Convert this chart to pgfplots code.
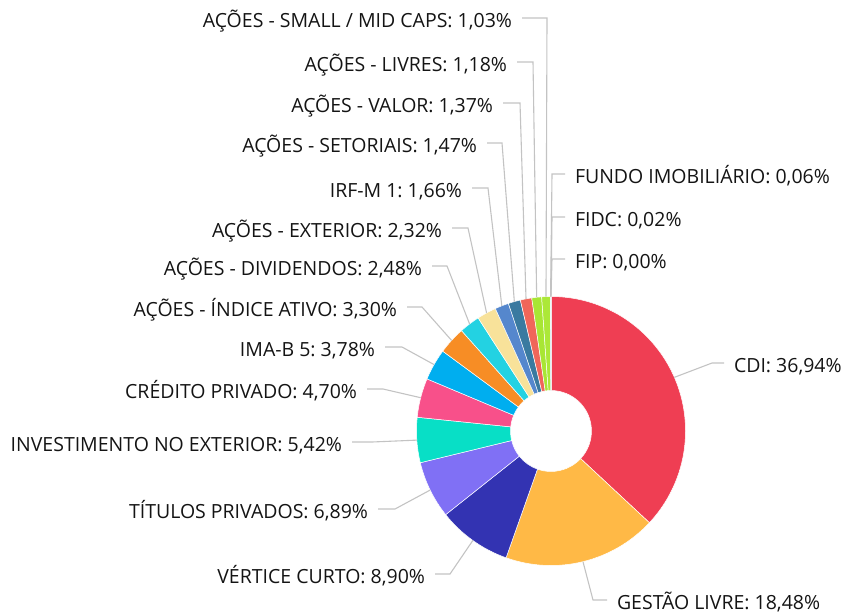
\documentclass[border=0pt]{standalone}
\usepackage{fontspec}
\setmainfont{Open Sans}
\usepackage{pgfplots}
\pgfplotsset{compat=1.18}
\usepackage{pgfplotstable}
\frenchspacing

\definecolor{cCDI}{RGB}{239,62,83}
\definecolor{cGL}{RGB}{255,185,70}
\definecolor{cVC}{RGB}{51,51,178}
\definecolor{cTP}{RGB}{128,112,245}
\definecolor{cIE}{RGB}{8,223,198}
\definecolor{cCP}{RGB}{248,80,138}
\definecolor{cIMA}{RGB}{0,174,239}
\definecolor{cIA}{RGB}{247,141,37}
\definecolor{cDIV}{RGB}{35,210,226}
\definecolor{cEXT}{RGB}{248,226,154}
\definecolor{cIRF}{RGB}{85,135,205}
\definecolor{cSET}{RGB}{58,122,160}
\definecolor{cVAL}{RGB}{240,102,90}
\definecolor{cLIV}{RGB}{168,230,52}
\definecolor{cSM}{RGB}{172,232,56}
\definecolor{cFII}{RGB}{128,112,245}
\definecolor{cFIDC}{RGB}{8,223,198}
\definecolor{cFIP}{RGB}{248,80,138}
\definecolor{conn}{RGB}{195,195,195}
\definecolor{txt}{RGB}{20,20,20}

\tikzset{
  lbl/.style={font=\fontsize{19.5}{23}\selectfont, text=txt, inner sep=0pt, outer sep=0pt},
  cn/.style={draw=conn, line width=1.1pt},
}

% value; colour; label; side (1 right, -1 left); text x; line y; bend x  (pixel coordinates)
\pgfplotstableread[col sep=semicolon]{
value;color;label;side;tx;ly;bx
36.94;cCDI;{CDI: 36,94\%};1;734;363;712
18.48;cGL;{GESTÃO LIVRE: 18,48\%};1;617;600;593
8.90;cVC;{VÉRTICE CURTO: 8,90\%};-1;425;574;450
6.89;cTP;{TÍTULOS PRIVADOS: 6,89\%};-1;368;509;395
5.42;cIE;{INVESTIMENTO NO EXTERIOR: 5,42\%};-1;342;442;372
4.70;cCP;{CRÉDITO PRIVADO: 4,70\%};-1;357;389;383
3.78;cIMA;{IMA-B 5: 3,78\%};-1;375;347;402
3.30;cIA;{AÇÕES - ÍNDICE ATIVO: 3,30\%};-1;397;307;422
2.48;cDIV;{AÇÕES - DIVIDENDOS: 2,48\%};-1;422;266;447
2.32;cEXT;{AÇÕES - EXTERIOR: 2,32\%};-1;442;228;468
1.66;cIRF;{IRF-M 1: 1,66\%};-1;462;188;488
1.47;cSET;{AÇÕES - SETORIAIS: 1,47\%};-1;477;143;502
1.37;cVAL;{AÇÕES - VALOR: 1,37\%};-1;493;103;520
1.18;cLIV;{AÇÕES - LIVRES: 1,18\%};-1;507;62;533
1.03;cSM;{AÇÕES - SMALL / MID CAPS: 1,03\%};-1;512;18;547
0.06;cFII;{FUNDO IMOBILIÁRIO: 0,06\%};1;575;174;552
0.02;cFIDC;{FIDC: 0,02\%};1;575;217;552
0.00;cFIP;{FIP: 0,00\%};1;575;259;552
}\piedata

\def\rO{134.5pt}
\def\rI{40.5pt}

\begin{document}
\begin{tikzpicture}
\begin{axis}[
  scale only axis, width=845pt, height=613pt,
  xmin=0, xmax=845, ymin=0, ymax=613, y dir=reverse,
  hide axis, clip=false,
]
\addplot[draw=none] coordinates {(0,0) (845,613)};
\pgfplotstablegetrowsof{\piedata}
\pgfmathtruncatemacro\N{\pgfplotsretval-1}
\def\cum{0}
\pgfplotsforeachungrouped \i in {0,...,\N}{%
  \pgfplotstablegetelem{\i}{value}\of\piedata \let\v\pgfplotsretval
  \pgfplotstablegetelem{\i}{color}\of\piedata \let\col\pgfplotsretval
  \pgfplotstablegetelem{\i}{label}\of\piedata \let\lab\pgfplotsretval
  \pgfplotstablegetelem{\i}{side}\of\piedata \let\s\pgfplotsretval
  \pgfplotstablegetelem{\i}{tx}\of\piedata \let\tx\pgfplotsretval
  \pgfplotstablegetelem{\i}{ly}\of\piedata \let\ly\pgfplotsretval
  \pgfplotstablegetelem{\i}{bx}\of\piedata \let\bx\pgfplotsretval
  \pgfmathsetmacro\aS{90-3.6*\cum}%
  \pgfmathsetmacro\aE{90-3.6*(\cum+\v)}%
  \pgfmathsetmacro\aM{(\aS+\aE)/2}%
  \pgfmathsetmacro\cum{\cum+\v}%
  \pgfmathsetmacro\ex{\tx-10*\s}%
  \pgfmathsetmacro\by{\ly+9.5}%
  \ifnum\s>0 \def\anc{base west}\else\def\anc{base east}\fi
  \edef\cmd{\noexpand\fill[fill=\col, draw=white, line width=0.5pt]
    ([shift={(\aS:\rO)}]axis cs:551,431) arc[start angle=\aS, end angle=\aE, radius=\rO]
    -- ([shift={(\aE:\rI)}]axis cs:551,431) arc[start angle=\aE, end angle=\aS, radius=\rI] -- cycle;}%
  \cmd
  \edef\cmd{\noexpand\draw[cn] ([shift={(\aM:\rO)}]axis cs:551,431) -- (axis cs:\bx,\ly) -- (axis cs:\ex,\ly);}%
  \cmd
  \edef\cmd{\noexpand\node[lbl, anchor=\anc] at (axis cs:\tx,\by) {\lab};}%
  \cmd
}
\end{axis}
\pgfresetboundingbox
\path[use as bounding box] (0,0) rectangle (845pt,613pt);
\end{tikzpicture}
\end{document}
